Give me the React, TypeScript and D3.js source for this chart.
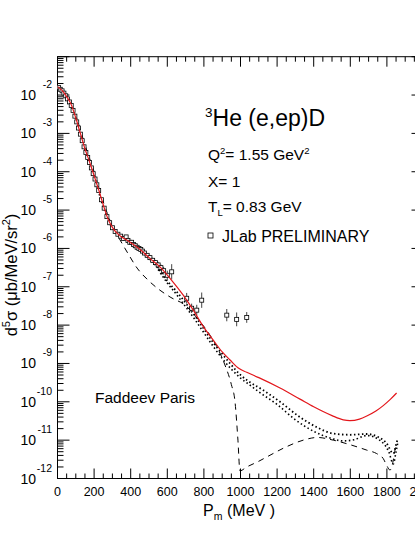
import { useEffect, useRef } from "react";
import * as d3 from "d3";

// curves, values as log10 of d5sigma (ub/MeV/sr^2)
const fullPm = [0, 25, 50, 75, 100, 125, 150, 175, 200, 225, 250, 275, 300, 325, 350, 378, 400, 450, 505, 560, 615, 687, 742, 797, 851, 900, 943, 988, 1034, 1100, 1216, 1325, 1400, 1500, 1562, 1598, 1650, 1690, 1740, 1780, 1820, 1853];
const fullLog = [-1.78, -1.88, -2.04, -2.25, -2.6, -3.0, -3.4, -3.74, -4.1, -4.47, -4.86, -5.22, -5.45, -5.6, -5.7, -5.78, -5.85, -6.02, -6.26, -6.48, -6.78, -7.22, -7.61, -8.04, -8.39, -8.7, -8.91, -9.12, -9.23, -9.37, -9.64, -9.93, -10.13, -10.36, -10.47, -10.49, -10.45, -10.37, -10.24, -10.1, -9.93, -9.77];

const dot1Pm = [0, 50, 100, 150, 200, 250, 300, 350, 400, 450, 500, 550, 600, 650, 700, 750, 800, 850, 900, 943, 1000, 1034, 1125, 1216, 1325, 1416, 1507, 1598, 1690, 1744, 1798, 1835, 1850, 1860];
const dot1Log = [-1.79, -2.06, -2.62, -3.43, -4.13, -4.9, -5.48, -5.73, -5.88, -6.05, -6.28, -6.52, -6.85, -7.12, -7.42, -7.75, -8.1, -8.45, -8.75, -9.0, -9.3, -9.43, -9.7, -10.0, -10.4, -10.66, -10.83, -10.86, -10.84, -10.9, -11.08, -11.35, -11.12, -10.95];

const dot2Pm = [550, 600, 650, 700, 750, 800, 850, 900, 950, 1000, 1050, 1100, 1200, 1300, 1400, 1500, 1560, 1620, 1690, 1760, 1810, 1835, 1850, 1860];
const dot2Log = [-6.55, -6.9, -7.2, -7.52, -7.85, -8.2, -8.55, -8.87, -9.15, -9.38, -9.56, -9.74, -10.07, -10.47, -10.77, -10.96, -11.02, -10.99, -10.88, -11.0, -11.3, -11.62, -11.3, -11.05];

const pwiaPm = [0, 50, 100, 150, 200, 250, 300, 342, 400, 423, 500, 560, 620, 697, 760, 833, 880, 915, 950, 970, 986, 997, 1034, 1100, 1143, 1252, 1343, 1420, 1507, 1600, 1690, 1744, 1780, 1798, 1817, 1835, 1844, 1855];
const pwiaLog = [-1.79, -2.0, -2.53, -3.3, -4.0, -4.78, -5.42, -5.78, -6.25, -6.43, -6.85, -7.09, -7.28, -7.48, -7.8, -8.26, -8.65, -9.04, -9.55, -10.0, -11.0, -11.8, -11.7, -11.55, -11.44, -11.17, -11.0, -10.93, -11.0, -11.12, -11.26, -11.35, -11.48, -11.65, -11.78, -11.52, -11.26, -11.1];

// JLab preliminary data
const dataPm = [5, 15, 25, 35, 45, 55, 65, 75, 85, 95, 105, 115, 125, 135, 145, 155, 165, 175, 185, 195, 205, 215, 225, 240, 255, 270, 285, 300, 315, 330, 345, 360, 375, 385, 395, 405, 415, 425, 435, 445, 455, 465, 475, 490, 505, 520, 535, 550, 565, 580, 600, 624, 706, 733, 761, 788, 925, 979, 1034];
const dataLog = [-1.8, -1.85, -1.89, -1.95, -2.02, -2.1, -2.18, -2.27, -2.4, -2.55, -2.7, -2.86, -3.02, -3.19, -3.35, -3.5, -3.63, -3.76, -3.9, -4.05, -4.19, -4.34, -4.49, -4.73, -4.95, -5.17, -5.33, -5.46, -5.56, -5.63, -5.68, -5.74, -5.7, -5.79, -5.84, -5.84, -5.9, -5.93, -5.97, -6.0, -6.03, -6.07, -6.12, -6.18, -6.24, -6.31, -6.37, -6.43, -6.5, -6.58, -6.7, -6.61, -7.3, -7.56, -7.61, -7.35, -7.74, -7.85, -7.8];
const dataErr = [0.02, 0.02, 0.02, 0.02, 0.02, 0.02, 0.02, 0.02, 0.02, 0.02, 0.02, 0.02, 0.02, 0.03, 0.03, 0.03, 0.03, 0.03, 0.03, 0.03, 0.03, 0.03, 0.03, 0.03, 0.03, 0.04, 0.04, 0.04, 0.04, 0.04, 0.04, 0.04, 0.05, 0.05, 0.05, 0.05, 0.05, 0.05, 0.05, 0.05, 0.06, 0.06, 0.06, 0.06, 0.07, 0.07, 0.07, 0.08, 0.08, 0.1, 0.12, 0.2, 0.14, 0.12, 0.14, 0.2, 0.16, 0.18, 0.14];

const xTicks = [0, 200, 400, 600, 800, 1000, 1200, 1400, 1600, 1800, 2000];
const yExps = [-2, -3, -4, -5, -6, -7, -8, -9, -10, -11, -12];

const W = 415;
const H = 537;
const FONT = "'Liberation Sans', Arial, Helvetica, sans-serif";

export default function App() {
  const svgRef = useRef<SVGSVGElement>(null);

  useEffect(() => {
    const svg = d3.select(svgRef.current);
    svg.selectAll("*").remove();

    const x = d3.scaleLinear().domain([0, 2000]).range([57.5, 423.5]);
    const y = d3.scaleLog().domain([1e-12, 1e-1]).range([478.5, 56.7]);
    const [x0, x1] = x.range();
    const [y0, y1] = y.range();

    svg.append("defs").append("clipPath").attr("id", "plot")
      .append("rect").attr("x", x0).attr("y", y1).attr("width", x1 - x0).attr("height", y0 - y1);

    const g = svg.append("g");

    // frame
    g.append("rect").attr("x", x0).attr("y", y1).attr("width", x1 - x0).attr("height", y0 - y1)
      .attr("fill", "none").attr("stroke", "#000").attr("stroke-width", 1);

    // x ticks (bottom + top, inward)
    const xMinor = d3.range(0, 2001, 50);
    xMinor.forEach(v => {
      const major = v % 200 === 0;
      const len = major ? 10 : 5;
      g.append("line").attr("x1", x(v)).attr("x2", x(v)).attr("y1", y0).attr("y2", y0 - len).attr("stroke", "#000");
      g.append("line").attr("x1", x(v)).attr("x2", x(v)).attr("y1", y1).attr("y2", y1 + len).attr("stroke", "#000");
    });
    g.selectAll(".xl").data(xTicks).enter().append("text")
      .attr("x", d => x(d)).attr("y", 496).attr("text-anchor", "middle")
      .attr("font-family", FONT).attr("font-size", 12.5).text(d => d);

    // y ticks (log, left + right)
    for (let e = -12; e <= -1; e++) {
      const ms = e === -1 ? [1] : [1, 2, 3, 4, 5, 6, 7, 8, 9];
      ms.forEach(m => {
        const v = m * Math.pow(10, e);
        const len = m === 1 ? 12 : 6;
        g.append("line").attr("x1", x0).attr("x2", x0 + len).attr("y1", y(v)).attr("y2", y(v)).attr("stroke", "#000");
        g.append("line").attr("x1", x1).attr("x2", x1 - len).attr("y1", y(v)).attr("y2", y(v)).attr("stroke", "#000");
      });
    }
    yExps.forEach(e => {
      const yy = y(Math.pow(10, e));
      g.append("text").attr("x", 36).attr("y", yy + 5).attr("text-anchor", "end")
        .attr("font-family", FONT).attr("font-size", 14).text("10");
      g.append("text").attr("x", 52).attr("y", yy - 7).attr("text-anchor", "end")
        .attr("font-family", FONT).attr("font-size", 10.5).text(e);
    });

    // axis titles
    const xt = g.append("text").attr("x", 203).attr("y", 516).attr("font-family", FONT).attr("font-size", 16);
    xt.append("tspan").text("P");
    xt.append("tspan").attr("font-size", 10.5).attr("dy", 4).text("m");
    xt.append("tspan").attr("x", 227).attr("dy", -4).text("(MeV )");

    const yt = g.append("text").attr("transform", "translate(17,275) rotate(-90)")
      .attr("text-anchor", "middle").attr("font-family", FONT).attr("font-size", 16.5);
    yt.append("tspan").text("d");
    yt.append("tspan").attr("font-size", 11).attr("dy", -7).text("5");
    yt.append("tspan").attr("dy", 7).text("σ (μb/MeV/sr");
    yt.append("tspan").attr("font-size", 11).attr("dy", -7).text("2");
    yt.append("tspan").attr("dy", 7).text(")");

    // curves
    const cg = g.append("g").attr("clip-path", "url(#plot)");
    const line = d3.line<[number, number]>()
      .x(d => x(d[0])).y(d => y(Math.pow(10, d[1]))).curve(d3.curveMonotoneX);
    const pairs = (a: number[], b: number[]) => a.map((v, i) => [v, b[i]] as [number, number]);

    cg.append("path").attr("d", line(pairs(pwiaPm, pwiaLog))).attr("fill", "none")
      .attr("stroke", "#000").attr("stroke-width", 1).attr("stroke-dasharray", "6,5");
    cg.append("path").attr("d", line(pairs(dot2Pm, dot2Log))).attr("fill", "none")
      .attr("stroke", "#000").attr("stroke-width", 1.6).attr("stroke-dasharray", "1.5,2.5");
    cg.append("path").attr("d", line(pairs(dot1Pm, dot1Log))).attr("fill", "none")
      .attr("stroke", "#000").attr("stroke-width", 1.8).attr("stroke-dasharray", "1.5,2.5");

    // data points
    const pts = pairs(dataPm, dataLog);
    cg.selectAll(".eb").data(pts).enter().append("line")
      .attr("x1", d => x(d[0])).attr("x2", d => x(d[0]))
      .attr("y1", (d, i) => y(Math.pow(10, d[1] + dataErr[i])))
      .attr("y2", (d, i) => y(Math.pow(10, d[1] - dataErr[i])))
      .attr("stroke", "#444").attr("stroke-width", 1);
    cg.selectAll(".sq").data(pts).enter().append("rect")
      .attr("x", d => x(d[0]) - 2).attr("y", d => y(Math.pow(10, d[1])) - 2)
      .attr("width", 4).attr("height", 4).attr("fill", "#fff").attr("stroke", "#000").attr("stroke-width", 0.8);

    cg.append("path").attr("d", line(pairs(fullPm, fullLog))).attr("fill", "none")
      .attr("stroke", "#e3161b").attr("stroke-width", 1.2);

    // annotations
    const he = g.append("text").attr("x", 205).attr("y", 126).attr("font-family", FONT).attr("font-size", 23);
    he.append("tspan").attr("font-size", 13.5).attr("dy", -9).text("3");
    he.append("tspan").attr("dy", 9).text("He (e,ep)D");

    const q = g.append("text").attr("x", 208).attr("y", 160).attr("font-family", FONT).attr("font-size", 15.5);
    q.append("tspan").text("Q");
    q.append("tspan").attr("font-size", 9.5).attr("dy", -6).text("2");
    q.append("tspan").attr("dy", 6).text("= 1.55 GeV");
    q.append("tspan").attr("font-size", 9.5).attr("dy", -6).text("2");

    g.append("text").attr("x", 208).attr("y", 187).attr("font-family", FONT).attr("font-size", 15.5).text("X= 1");

    const t = g.append("text").attr("x", 208).attr("y", 212).attr("font-family", FONT).attr("font-size", 15.5);
    t.append("tspan").text("T");
    t.append("tspan").attr("font-size", 9.5).attr("dy", 4).text("L");
    t.append("tspan").attr("dy", -4).text("= 0.83 GeV");

    g.append("rect").attr("x", 208).attr("y", 233).attr("width", 5).attr("height", 5)
      .attr("fill", "#fff").attr("stroke", "#000").attr("stroke-width", 0.8);
    g.append("text").attr("x", 222).attr("y", 242).attr("font-family", FONT).attr("font-size", 16).text("JLab PRELIMINARY");

    g.append("text").attr("x", 95).attr("y", 403).attr("font-family", FONT).attr("font-size", 15.5).text("Faddeev Paris");
  }, []);

  return (
    <svg ref={svgRef} width={W} height={H}
      style={{ position: "absolute", left: 0, top: 0, background: "#fff" }} />
  );
}
